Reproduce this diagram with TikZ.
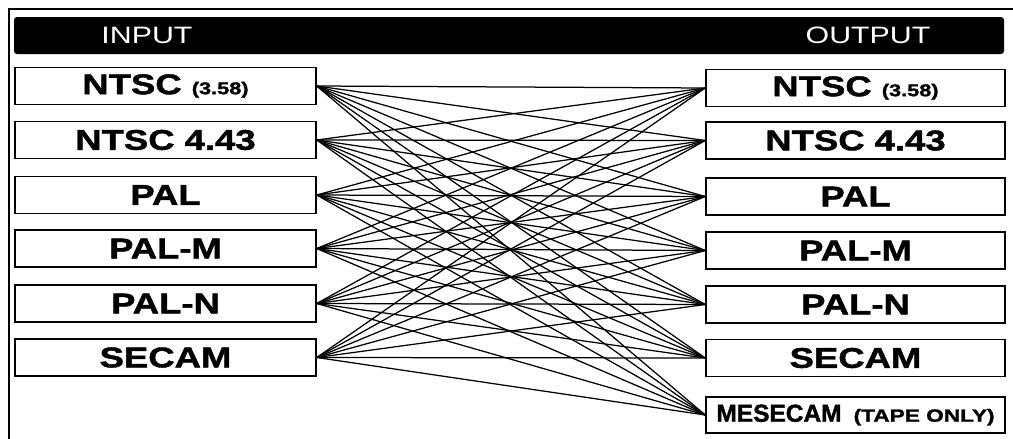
\documentclass[tikz,border=0pt]{standalone}
\usepackage{fontspec}
\newfontfamily\widesans[FakeStretch=1.28,BoldFeatures={FakeBold=1.5}]{Liberation Sans}
\newfontfamily\plainsans[BoldFeatures={FakeBold=1.5}]{Liberation Sans}
\begin{document}
\begin{tikzpicture}[x=1pt,y=-1pt,
  fmt/.style={draw=black,line width=1.5pt,minimum width=301pt,minimum height=37pt,inner sep=0pt,
    font=\widesans\bfseries\fontsize{28.5}{28}\selectfont},
  link/.style={line width=1.25pt},
  head/.style={text=white,font=\widesans\fontsize{23.7}{24}\selectfont}]
\useasboundingbox (0,0) rectangle (1013,439);
% frame
\draw[line width=1.2pt] (9,439) -- (9,9) -- (1013,9);
% header bar
\fill[black,rounded corners=3pt] (14,17) rectangle (1004,54);
\node[head] (hin) at (147,35.5) {INPUT};
\node[head] (hout) at (868,35.5) {OUTPUT};
% input boxes
\node[fmt] (i1) at (165.5,86) {NTSC {\fontsize{17}{17}\selectfont (3.58)}};
\node[fmt] (i2) at (165.5,140) {NTSC 4.43};
\node[fmt] (i3) at (165.5,195) {PAL};
\node[fmt] (i4) at (165.5,248.5) {PAL-M};
\node[fmt] (i5) at (165.5,303.5) {PAL-N};
\node[fmt] (i6) at (165.5,357.5) {SECAM};
% output boxes
\node[fmt,minimum width=299pt] (o1) at (855.5,88) {NTSC {\fontsize{17}{17}\selectfont (3.58)}};
\node[fmt,minimum width=299pt] (o2) at (855.5,140.5) {NTSC 4.43};
\node[fmt,minimum width=299pt] (o3) at (855.5,196.5) {PAL};
\node[fmt,minimum width=299pt] (o4) at (855.5,250.5) {PAL-M};
\node[fmt,minimum width=299pt] (o5) at (855.5,304.5) {PAL-N};
\node[fmt,minimum width=299pt] (o6) at (855.5,358) {SECAM};
\node[fmt,minimum width=299pt,minimum height=36pt] (o7) at (855.5,415)
  {{\plainsans\bfseries\fontsize{24.5}{24}\selectfont MESECAM}\hspace{12pt}{\fontsize{17.7}{18}\selectfont (TAPE ONLY)}};
% connectors: every input to every output
\foreach \i in {1,...,6}{
  \foreach \o in {1,...,7}{
    \draw[link] (i\i.east) -- (o\o.west);
  }
}
\end{tikzpicture}
\end{document}
